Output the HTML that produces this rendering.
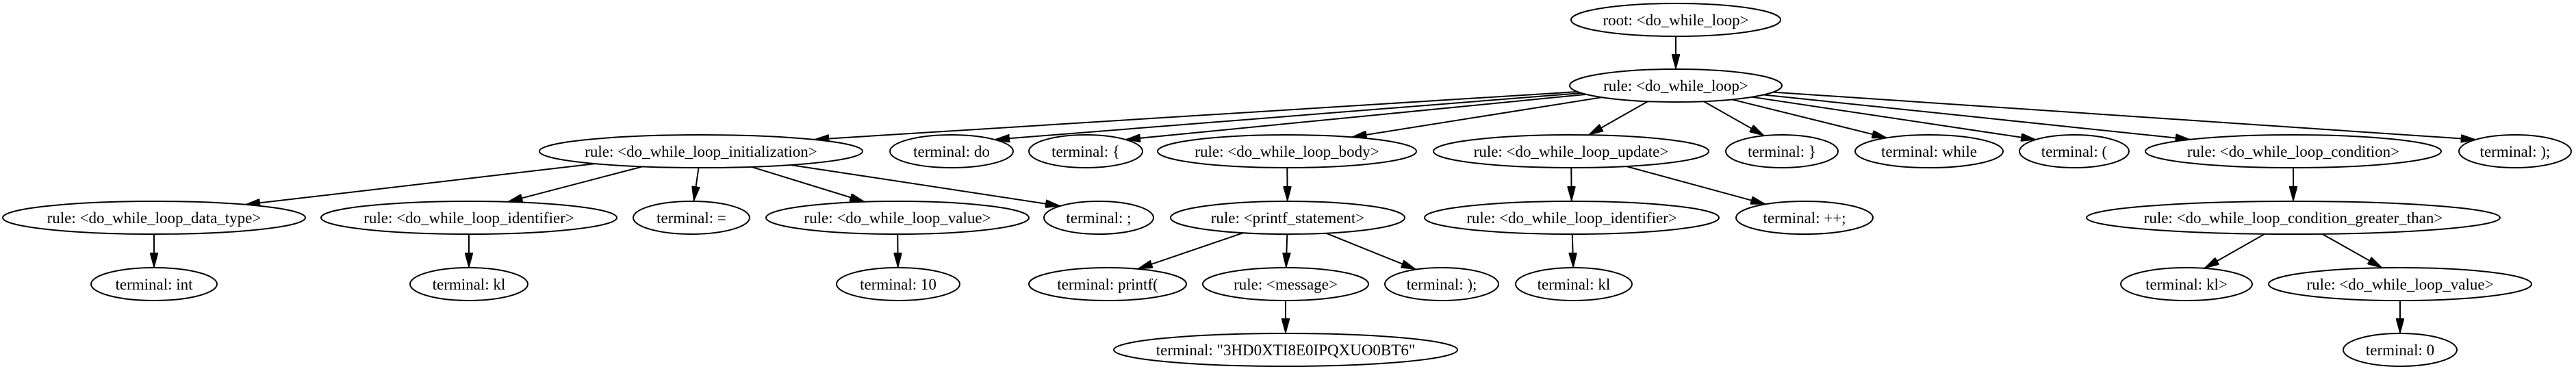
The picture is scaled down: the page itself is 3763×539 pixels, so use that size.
<!DOCTYPE html>
<html><head><meta charset="utf-8"><style>
html,body{margin:0;padding:0;background:#fff;}
svg{display:block;}
text{font-family:"Liberation Serif",serif;font-size:23px;fill:#000;}
</style></head><body>
<svg id="g" width="3763" height="539" viewBox="0 0 3763 539" xmlns="http://www.w3.org/2000/svg">
<defs><marker id="ah" markerUnits="userSpaceOnUse" markerWidth="24" markerHeight="12" refX="22" refY="6" orient="auto"><path d="M0,0 L22,6 L0,12 z" fill="#000" stroke="#000" stroke-width="1"/></marker></defs>
</svg>
<script>
var Y=[29,125,221,318,415,511],RY=24;
var N={
root:[2448,0,153,"root: <do_while_loop>"],
dw:[2448,1,155,"rule: <do_while_loop>"],
init:[1024,2,236,"rule: <do_while_loop_initialization>"],
tdo:[1390,2,90,"terminal: do"],
tlb:[1586,2,83,"terminal: {"],
body:[1880,2,189,"rule: <do_while_loop_body>"],
upd:[2295,2,201,"rule: <do_while_loop_update>"],
trb:[2603,2,82,"terminal: }"],
twh:[2818,2,108,"terminal: while"],
tlp:[3030,2,80,"terminal: ("],
cond:[3350,2,216,"rule: <do_while_loop_condition>"],
tend:[3674,2,82,"terminal: );"],
dt:[225,3,221,"rule: <do_while_loop_data_type>"],
id1:[685,3,216,"rule: <do_while_loop_identifier>"],
teq:[1010,3,85,"terminal: ="],
val1:[1311,3,192,"rule: <do_while_loop_value>"],
tsc:[1605,3,80,"terminal: ;"],
pst:[1881,3,171,"rule: <printf_statement>"],
id2:[2296,3,215,"rule: <do_while_loop_identifier>"],
tpp:[2636,3,100,"terminal: ++;"],
gt:[3350,3,302,"rule: <do_while_loop_condition_greater_than>"],
tint:[225,4,92,"terminal: int"],
tkl1:[685,4,86,"terminal: kl"],
t10:[1312,4,90,"terminal: 10"],
tpf:[1618,4,115,"terminal: printf("],
msg:[1878,4,121,"rule: <message>"],
tcl:[2106,4,83,"terminal: );"],
tkl2:[2299,4,85,"terminal: kl"],
tklg:[3194,4,96,"terminal: kl>"],
val2:[3506,4,192,"rule: <do_while_loop_value>"],
str:[1878,5,251,"terminal: \"3HD0XTI8E0IPQXUO0BT6\""],
t0:[3506,5,83,"terminal: 0"]};
var E=[["root","dw"],["dw","init"],["dw","tdo"],["dw","tlb"],["dw","body"],["dw","upd"],["dw","trb"],["dw","twh"],["dw","tlp"],["dw","cond"],["dw","tend"],
["init","dt"],["init","id1"],["init","teq"],["init","val1"],["init","tsc"],["body","pst"],["upd","id2"],["upd","tpp"],["cond","gt"],
["dt","tint"],["id1","tkl1"],["val1","t10"],["pst","tpf"],["pst","msg"],["pst","tcl"],["id2","tkl2"],["gt","tklg"],["gt","val2"],["msg","str"],["val2","t0"]];
var s=document.getElementById("g"),h="";
function bd(n,dx,dy){var a=n[2],b=RY;var t=1/Math.sqrt(dx*dx/(a*a)+dy*dy/(b*b));return [n[0]+dx*t,Y[n[1]]+dy*t];}
E.forEach(function(e){var p=N[e[0]],c=N[e[1]];var dx=c[0]-p[0],dy=Y[c[1]]-Y[p[1]];
var ex,ey;
if(Math.abs(dx)>1.5*dy){
 var f=Math.min(0.7,Math.abs(dx)/(c[2]*6));var sg=dx>0?-1:1;
 ex=c[0]+sg*f*c[2];ey=Y[c[1]]-RY*Math.sqrt(1-f*f);
}else{var b=bd(c,-dx,-dy);ex=b[0];ey=b[1];}
var a=bd(p,ex-p[0],ey-Y[p[1]]);
h+='<line x1="'+a[0]+'" y1="'+a[1]+'" x2="'+ex+'" y2="'+ey+'" stroke="#000" stroke-width="2" marker-end="url(#ah)"/>';
});
for(var k in N){var n=N[k];var t=n[3].replace(/&/g,"&amp;").replace(/</g,"&lt;").replace(/>/g,"&gt;");
h+='<ellipse cx="'+n[0]+'" cy="'+Y[n[1]]+'" rx="'+n[2]+'" ry="'+RY+'" fill="#fff" stroke="#000" stroke-width="2"/>';
h+='<text x="'+n[0]+'" y="'+(Y[n[1]]+8)+'" text-anchor="middle">'+t+'</text>';}
s.insertAdjacentHTML("beforeend",h);
</script>
</body></html>
